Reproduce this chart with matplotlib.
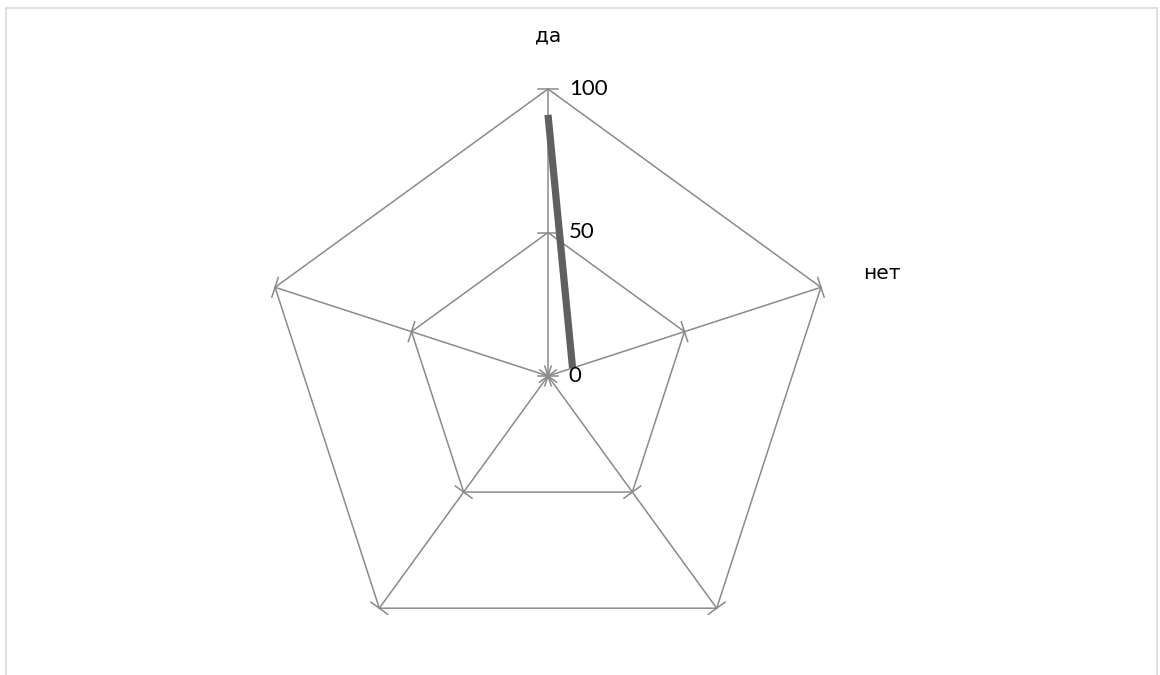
import numpy as np
import matplotlib
matplotlib.use("Agg")
import matplotlib.pyplot as plt
from matplotlib.patches import Rectangle

# ---- data ----
categories = ["да", "нет", "", "", ""]
values = [91, 9, np.nan, np.nan, np.nan]
ring_values = [0, 50, 100]
ring_labels = ["0", "50", "100"]

GRID = "#8a8a8a"
LINE = "#606060"

fig = plt.figure(figsize=(11.6, 6.75), dpi=100)
fig.patch.set_facecolor("white")

# outer frame
fig.patches.append(Rectangle((5.5 / 1160, -0.05), (1157 - 5.5) / 1160, 1.05 - 7.5 / 675,
                             transform=fig.transFigure, fill=False,
                             edgecolor="#d9d9d9", lw=1.2))

cx, cy, R = 548, 675 - 376, 287
ax = fig.add_axes([(cx - R) / 1160, (cy - R) / 675, 2 * R / 1160, 2 * R / 675],
                  projection="polar")
ax.set_theta_offset(np.pi / 2)
ax.set_theta_direction(-1)
ax.set_ylim(0, 100)
ax.grid(False)
ax.set_xticks([])
ax.set_yticks([])
ax.spines["polar"].set_visible(False)
ax.patch.set_alpha(0)

n = len(categories)
theta = np.arange(n) * 2 * np.pi / n

# polygon rings
for rv in ring_values[1:]:
    th = np.append(theta, theta[0])
    ax.plot(th, [rv] * (n + 1), color=GRID, lw=1.1, clip_on=False, zorder=1)

# spokes
for t in theta:
    ax.plot([t, t], [0, ring_values[-1]], color=GRID, lw=1.1, clip_on=False, zorder=1)

# tick marks perpendicular to spokes at every ring vertex
h = 3.6
for t in theta:
    for rv in ring_values:
        d = np.arctan2(h, rv)
        rr = np.hypot(rv, h)
        ax.plot([t - d, t + d], [rr, rr], color=GRID, lw=1.1, clip_on=False, zorder=1)

# data series
ax.plot(theta, values, color=LINE, lw=5.2, solid_capstyle="butt", zorder=3, clip_on=False)

# value axis labels along the first spoke
for rv, lab in zip(ring_values, ring_labels):
    ax.annotate(lab, xy=(0, rv), xytext=(15, 0), textcoords="offset points",
                ha="left", va="center", fontsize=16, family="Lato", color="#000000",
                annotation_clip=False, zorder=4)

# category labels
for t, c in zip(theta, categories):
    if not c:
        continue
    s, co = np.sin(t), np.cos(t)
    ha = "left" if s > 0.1 else ("right" if s < -0.1 else "center")
    va = "baseline" if co > 0.5 else ("top" if co < -0.5 else "center")
    r = 116.7 if va == "baseline" else 115.3
    ax.text(t, r, c, ha=ha, va=va, fontsize=14.5,
            family="DejaVu Sans", color="#000000", clip_on=False)

fig.savefig("out.png", dpi=100)
